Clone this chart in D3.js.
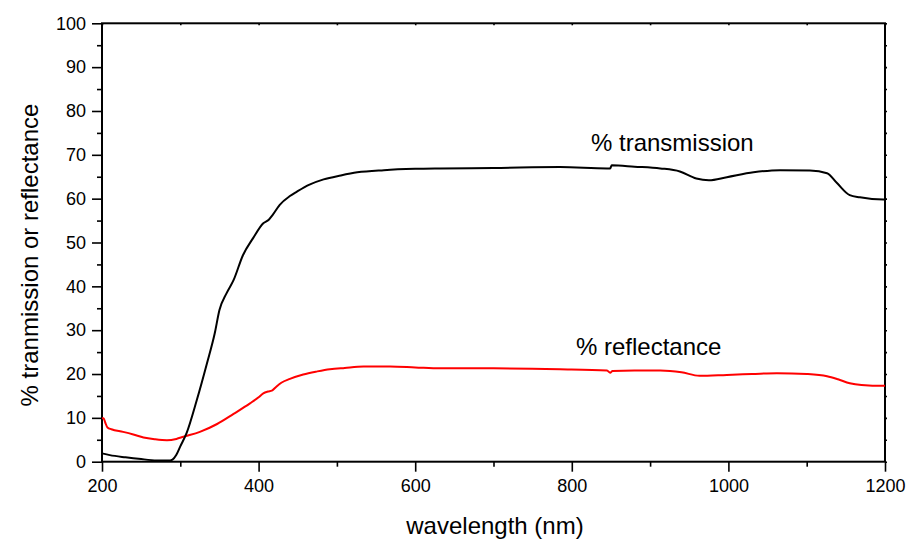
<!DOCTYPE html>
<html>
<head>
<meta charset="utf-8">
<script src="https://cdn.jsdelivr.net/npm/d3@7"></script>
<style>
  html, body { margin: 0; padding: 0; background: #fff; }
  svg text { font-family: "Liberation Sans", Arial, sans-serif; fill: #000; }
</style>
</head>
<body>
<svg id="chart" width="911" height="540"></svg>
<script>
// Transmission spectrum (wavelength in nm, percent)
const wavelengthT = [200, 210, 230, 250, 270, 285, 290, 295, 300, 308, 321, 334, 344, 350, 359, 368, 380, 393, 406, 413, 418, 427, 440, 449, 465, 483, 505, 526, 560, 600, 632, 700, 785, 845, 849, 851, 880, 913, 938, 959, 975, 998, 1032, 1066, 1104, 1126, 1139, 1155, 1168, 1198, 1200];
const transmission = [1.9, 1.5, 1.0, 0.6, 0.3, 0.25, 0.5, 1.6, 3.5, 6.5, 14.0, 22.4, 29.3, 34.6, 38.4, 41.4, 47.1, 51.0, 54.4, 55.2, 56.3, 58.6, 60.6, 61.6, 63.2, 64.4, 65.3, 66.0, 66.5, 66.8, 66.9, 67.0, 67.2, 66.9, 66.9, 67.6, 67.3, 66.9, 66.2, 64.6, 64.2, 64.9, 66.0, 66.5, 66.4, 65.8, 63.5, 60.8, 60.3, 59.8, 59.8];

// Reflectance spectrum (wavelength in nm, percent)
const wavelengthR = [200, 202, 204, 207, 212, 227, 240, 253, 268, 283, 295, 304, 325, 347, 368, 389, 400, 406, 412, 417, 422, 429, 440, 457, 475, 491, 510, 534, 568, 600, 632, 700, 785, 845, 849, 852, 880, 913, 940, 963, 998, 1030, 1062, 1100, 1126, 1140, 1155, 1170, 1198, 1200];
const reflectance = [9.9, 9.9, 9.0, 7.8, 7.4, 6.8, 6.2, 5.5, 5.1, 4.9, 5.2, 5.7, 6.8, 8.6, 10.9, 13.3, 14.7, 15.6, 16.0, 16.2, 17.0, 18.0, 18.9, 19.9, 20.6, 21.1, 21.4, 21.7, 21.7, 21.5, 21.3, 21.3, 21.1, 20.8, 20.3, 20.7, 20.8, 20.8, 20.4, 19.6, 19.8, 20.0, 20.2, 20.0, 19.5, 18.8, 17.9, 17.5, 17.3, 17.3];

// Axis ticks
const xMajorTicks = [200, 400, 600, 800, 1000, 1200];
const xMinorTicks = [300, 500, 700, 900, 1100];
const yMajorTicks = [0, 10, 20, 30, 40, 50, 60, 70, 80, 90, 100];
const yMinorTicks = [5, 15, 25, 35, 45, 55, 65, 75, 85, 95];

const svg = d3.select("#chart");
const plotLeft = 102, plotRight = 885, plotTop = 23.3, plotBottom = 461.7;

const x = d3.scaleLinear().domain([200, 1200]).range([plotLeft, plotRight]);
const y = d3.scaleLinear().domain([0, 100]).range([plotBottom, plotTop]);

const fmt = d3.format("d");

// Bottom axis: major and minor ticks outward
svg.append("g").attr("transform", `translate(0,${plotBottom})`)
  .call(d3.axisBottom(x).tickValues(xMajorTicks).tickFormat(fmt).tickSize(10).tickSizeOuter(0).tickPadding(8));
svg.append("g").attr("transform", `translate(0,${plotBottom})`)
  .call(d3.axisBottom(x).tickValues(xMinorTicks).tickFormat("").tickSize(5).tickSizeOuter(0));

// Left axis
svg.append("g").attr("transform", `translate(${plotLeft},0)`)
  .call(d3.axisLeft(y).tickValues(yMajorTicks).tickFormat(fmt).tickSize(10).tickSizeOuter(0).tickPadding(6));
svg.append("g").attr("transform", `translate(${plotLeft},0)`)
  .call(d3.axisLeft(y).tickValues(yMinorTicks).tickFormat("").tickSize(5).tickSizeOuter(0));

// Top and right axes: small ticks, no labels
svg.append("g").attr("transform", `translate(0,${plotTop})`)
  .call(d3.axisTop(x).tickValues(xMajorTicks.concat(xMinorTicks)).tickFormat("").tickSize(-2).tickSizeOuter(0));
svg.append("g").attr("transform", `translate(${plotRight},0)`)
  .call(d3.axisRight(y).tickValues(yMajorTicks.concat(yMinorTicks)).tickFormat("").tickSize(2).tickSizeOuter(0));

svg.selectAll(".domain").remove();
svg.selectAll(".tick line").attr("stroke", "#000").attr("stroke-width", 1.6);
svg.selectAll(".tick text").attr("font-size", 18).attr("font-family", "Liberation Sans, Arial, sans-serif").attr("fill", "#000");

// Frame
svg.append("rect")
  .attr("x", plotLeft).attr("y", plotTop)
  .attr("width", plotRight - plotLeft).attr("height", plotBottom - plotTop)
  .attr("fill", "none").attr("stroke", "#000").attr("stroke-width", 2);

// Curves
const line = d3.line().curve(d3.curveMonotoneX)
  .x(d => x(d[0])).y(d => y(d[1]));

const tData = wavelengthT.map((w, i) => [w, transmission[i]]);
const rData = wavelengthR.map((w, i) => [w, reflectance[i]]);

svg.append("path").datum(rData)
  .attr("d", line).attr("fill", "none")
  .attr("stroke", "#ff0000").attr("stroke-width", 2).attr("stroke-linejoin", "round");

svg.append("path").datum(tData)
  .attr("d", line).attr("fill", "none")
  .attr("stroke", "#000").attr("stroke-width", 2).attr("stroke-linejoin", "round");

// Series labels
svg.append("text").attr("x", 591).attr("y", 151).attr("font-size", 24).text("% transmission");
svg.append("text").attr("x", 576).attr("y", 355).attr("font-size", 24).text("% reflectance");

// Axis titles
svg.append("text").attr("x", 495).attr("y", 534).attr("text-anchor", "middle")
  .attr("font-size", 24).text("wavelength (nm)");
svg.append("text").attr("transform", "translate(38,255) rotate(-90)")
  .attr("text-anchor", "middle").attr("font-size", 24).text("% tranmission or reflectance");
</script>
</body>
</html>
